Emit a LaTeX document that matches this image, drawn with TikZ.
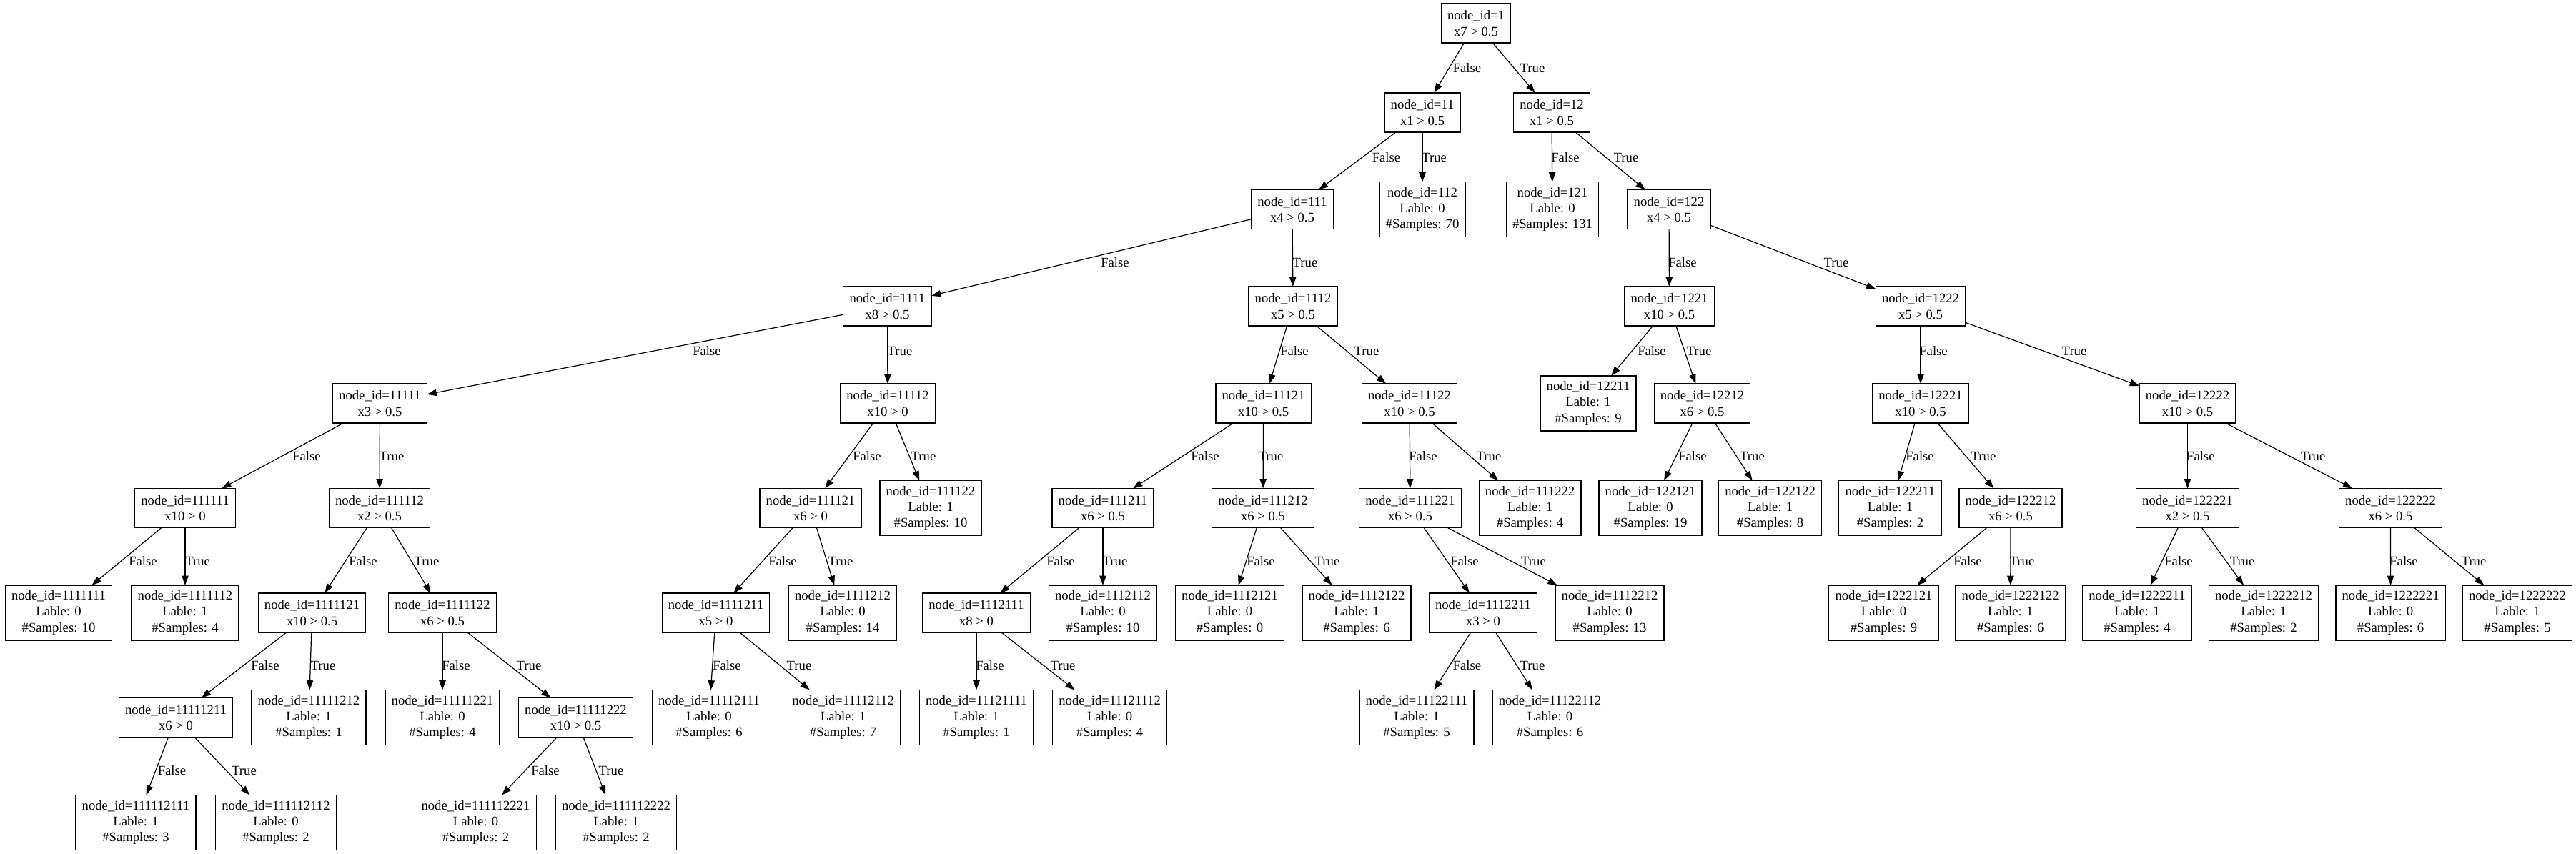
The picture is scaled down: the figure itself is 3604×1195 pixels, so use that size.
\documentclass[tikz,border=0pt]{standalone}
\usepackage{fontspec}
\setmainfont{Liberation Serif}
\usepackage{tikz}
\usetikzlibrary{arrows.meta, positioning}

\begin{document}
\begin{tikzpicture}[
    x=0.75pt, y=-0.75pt,
    split/.style = {rectangle, draw=black, line width=0.9pt, align=center, font=\fontsize{14}{16.8}\selectfont, inner xsep=6.5pt, inner ysep=0pt, minimum height=41.25pt, outer sep=0pt},
    leaf/.style = {split, minimum height=57.75pt},
    arrow/.style = {draw=black, line width=0.9pt, -{Triangle[length=10pt, width=7pt]}},
    lbl/.style = {font=\fontsize{14}{16.8}\selectfont, inner sep=0pt}
]
\useasboundingbox (0,0) rectangle (3604,1195);

% Rank 0 and 1
\node (n1) [split, at={(2065,32.5)}] {node\_id=1\\x7 > 0.5};
\node (n11) [split, at={(1990,157.5)}] {node\_id=11\\x1 > 0.5};
\node (n12) [split, at={(2171,157.5)}] {node\_id=12\\x1 > 0.5};

% Rank 2
\node (n111) [split, at={(1808,293)}] {node\_id=111\\x4 > 0.5};
\node (n112) [leaf, at={(1990,293)}] {node\_id=112\\Lable: 0\\\#Samples: 70};
\node (n121) [leaf, at={(2172,293)}] {node\_id=121\\Lable: 0\\\#Samples: 131};
\node (n122) [split, at={(2335,293)}] {node\_id=122\\x4 > 0.5};

% Rank 3
\node (n1111) [split, at={(1241.5,428.5)}] {node\_id=1111\\x8 > 0.5};
\node (n1112) [split, at={(1809,428.5)}] {node\_id=1112\\x5 > 0.5};
\node (n1221) [split, at={(2335.5,428.5)}] {node\_id=1221\\x10 > 0.5};
\node (n1222) [split, at={(2687,428.5)}] {node\_id=1222\\x5 > 0.5};

% Rank 4
\node (n11111) [split, at={(531.5,564.5)}] {node\_id=11111\\x3 > 0.5};
\node (n11112) [split, at={(1242,564.5)}] {node\_id=11112\\x10 > 0};
\node (n11121) [split, at={(1767.6,564.5)}] {node\_id=11121\\x10 > 0.5};
\node (n11122) [split, at={(1972,564.5)}] {node\_id=11122\\x10 > 0.5};
\node (n12211) [leaf, at={(2222,564.5)}] {node\_id=12211\\Lable: 1\\\#Samples: 9};
\node (n12212) [split, at={(2381.5,564.5)}] {node\_id=12212\\x6 > 0.5};
\node (n12221) [split, at={(2687,564.5)}] {node\_id=12221\\x10 > 0.5};
\node (n12222) [split, at={(3060.5,564.5)}] {node\_id=12222\\x10 > 0.5};

% Rank 5
\node (n111111) [split, at={(259,711)}] {node\_id=111111\\x10 > 0};
\node (n111112) [split, at={(531,711)}] {node\_id=111112\\x2 > 0.5};
\node (n111121) [split, at={(1134,711)}] {node\_id=111121\\x6 > 0};
\node (n111122) [leaf, at={(1302,711)}] {node\_id=111122\\Lable: 1\\\#Samples: 10};
\node (n111211) [split, at={(1543,711)}] {node\_id=111211\\x6 > 0.5};
\node (n111212) [split, at={(1767,711)}] {node\_id=111212\\x6 > 0.5};
\node (n111221) [split, at={(1973,711)}] {node\_id=111221\\x6 > 0.5};
\node (n111222) [leaf, at={(2140.6,711)}] {node\_id=111222\\Lable: 1\\\#Samples: 4};
\node (n122121) [leaf, at={(2309,711)}] {node\_id=122121\\Lable: 0\\\#Samples: 19};
\node (n122122) [leaf, at={(2476.6,711)}] {node\_id=122122\\Lable: 1\\\#Samples: 8};
\node (n122211) [leaf, at={(2644.5,711)}] {node\_id=122211\\Lable: 1\\\#Samples: 2};
\node (n122212) [split, at={(2813,711)}] {node\_id=122212\\x6 > 0.5};
\node (n122221) [split, at={(3060.5,711)}] {node\_id=122221\\x2 > 0.5};
\node (n122222) [split, at={(3344.5,711)}] {node\_id=122222\\x6 > 0.5};

% Rank 6
\node (n1111111) [leaf, at={(82,857.5)}] {node\_id=1111111\\Lable: 0\\\#Samples: 10};
\node (n1111112) [leaf, at={(259,857.5)}] {node\_id=1111112\\Lable: 1\\\#Samples: 4};
\node (n1111121) [split, at={(436.6,857.5)}] {node\_id=1111121\\x10 > 0.5};
\node (n1111122) [split, at={(619,857.5)}] {node\_id=1111122\\x6 > 0.5};
\node (n1111211) [split, at={(1001.5,857.5)}] {node\_id=1111211\\x5 > 0};
\node (n1111212) [leaf, at={(1179,857.5)}] {node\_id=1111212\\Lable: 0\\\#Samples: 14};
\node (n1112111) [split, at={(1366,857.5)}] {node\_id=1112111\\x8 > 0};
\node (n1112112) [leaf, at={(1543,857.5)}] {node\_id=1112112\\Lable: 0\\\#Samples: 10};
\node (n1112121) [leaf, at={(1720.5,857.5)}] {node\_id=1112121\\Lable: 0\\\#Samples: 0};
\node (n1112122) [leaf, at={(1898,857.5)}] {node\_id=1112122\\Lable: 1\\\#Samples: 6};
\node (n1112211) [split, at={(2075,857.5)}] {node\_id=1112211\\x3 > 0};
\node (n1112212) [leaf, at={(2252,857.5)}] {node\_id=1112212\\Lable: 0\\\#Samples: 13};
\node (n1222121) [leaf, at={(2635.5,857.5)}] {node\_id=1222121\\Lable: 0\\\#Samples: 9};
\node (n1222122) [leaf, at={(2812.7,857.5)}] {node\_id=1222122\\Lable: 1\\\#Samples: 6};
\node (n1222211) [leaf, at={(2990,857.5)}] {node\_id=1222211\\Lable: 1\\\#Samples: 4};
\node (n1222212) [leaf, at={(3167,857.5)}] {node\_id=1222212\\Lable: 1\\\#Samples: 2};
\node (n1222221) [leaf, at={(3344.6,857.5)}] {node\_id=1222221\\Lable: 0\\\#Samples: 6};
\node (n1222222) [leaf, at={(3522,857.5)}] {node\_id=1222222\\Lable: 1\\\#Samples: 5};

% Rank 7
\node (n11111211) [split, at={(246,1004)}] {node\_id=11111211\\x6 > 0};
\node (n11111212) [leaf, at={(432,1004)}] {node\_id=11111212\\Lable: 1\\\#Samples: 1};
\node (n11111221) [leaf, at={(619,1004)}] {node\_id=11111221\\Lable: 0\\\#Samples: 4};
\node (n11111222) [split, at={(805.5,1004)}] {node\_id=11111222\\x10 > 0.5};
\node (n11112111) [leaf, at={(992,1004)}] {node\_id=11112111\\Lable: 0\\\#Samples: 6};
\node (n11112112) [leaf, at={(1179.6,1004)}] {node\_id=11112112\\Lable: 1\\\#Samples: 7};
\node (n11121111) [leaf, at={(1366,1004)}] {node\_id=11121111\\Lable: 1\\\#Samples: 1};
\node (n11121112) [leaf, at={(1552.6,1004)}] {node\_id=11121112\\Lable: 0\\\#Samples: 4};
\node (n11122111) [leaf, at={(1982,1004)}] {node\_id=11122111\\Lable: 1\\\#Samples: 5};
\node (n11122112) [leaf, at={(2168.5,1004)}] {node\_id=11122112\\Lable: 0\\\#Samples: 6};

% Rank 8
\node (n111112111) [leaf, at={(190,1151)}] {node\_id=111112111\\Lable: 1\\\#Samples: 3};
\node (n111112112) [leaf, at={(386,1151)}] {node\_id=111112112\\Lable: 0\\\#Samples: 2};
\node (n111112221) [leaf, at={(665.5,1151)}] {node\_id=111112221\\Lable: 0\\\#Samples: 2};
\node (n111112222) [leaf, at={(862,1151)}] {node\_id=111112222\\Lable: 1\\\#Samples: 2};

% Edges, rank 0 to 2
\draw [arrow] (n1) -- (n11) node [lbl, at={(2052.5,95)}] {False};
\draw [arrow] (n1) -- (n12) node [lbl, at={(2144,95)}] {True};
\draw [arrow] (n11) -- (n111) node [lbl, at={(1939.5,220)}] {False};
\draw [arrow] (n11) -- (n112) node [lbl, at={(2006.6,220)}] {True};
\draw [arrow] (n12) -- (n121) node [lbl, at={(2190,220)}] {False};
\draw [arrow] (n12) -- (n122) node [lbl, at={(2275,220)}] {True};

% Edges, rank 2 to 4
\draw [arrow] (n111) -- (n1111) node [lbl, at={(1560,367)}] {False};
\draw [arrow] (n111) -- (n1112) node [lbl, at={(1826,367)}] {True};
\draw [arrow] (n122) -- (n1221) node [lbl, at={(2354,367)}] {False};
\draw [arrow] (n122) -- (n1222) node [lbl, at={(2569,367)}] {True};
\draw [arrow] (n1111) -- (n11111) node [lbl, at={(989,491)}] {False};
\draw [arrow] (n1111) -- (n11112) node [lbl, at={(1259,491)}] {True};
\draw [arrow] (n1112) -- (n11121) node [lbl, at={(1811,491)}] {False};
\draw [arrow] (n1112) -- (n11122) node [lbl, at={(1912,491)}] {True};
\draw [arrow] (n1221) -- (n12211) node [lbl, at={(2311,491)}] {False};
\draw [arrow] (n1221) -- (n12212) node [lbl, at={(2377,491)}] {True};
\draw [arrow] (n1222) -- (n12221) node [lbl, at={(2705,491)}] {False};
\draw [arrow] (n1222) -- (n12222) node [lbl, at={(2902,491)}] {True};

% Edges, rank 4 to 5
\draw [arrow] (n11111) -- (n111111) node [lbl, at={(429,638)}] {False};
\draw [arrow] (n11111) -- (n111112) node [lbl, at={(548,638)}] {True};
\draw [arrow] (n11112) -- (n111121) node [lbl, at={(1213,638)}] {False};
\draw [arrow] (n11112) -- (n111122) node [lbl, at={(1292,638)}] {True};
\draw [arrow] (n11121) -- (n111211) node [lbl, at={(1686,638)}] {False};
\draw [arrow] (n11121) -- (n111212) node [lbl, at={(1778,638)}] {True};
\draw [arrow] (n11122) -- (n111221) node [lbl, at={(1991,638)}] {False};
\draw [arrow] (n11122) -- (n111222) node [lbl, at={(2083,638)}] {True};
\draw [arrow] (n12212) -- (n122121) node [lbl, at={(2368,638)}] {False};
\draw [arrow] (n12212) -- (n122122) node [lbl, at={(2451.5,638)}] {True};
\draw [arrow] (n12221) -- (n122211) node [lbl, at={(2686,638)}] {False};
\draw [arrow] (n12221) -- (n122212) node [lbl, at={(2775,638)}] {True};
\draw [arrow] (n12222) -- (n122221) node [lbl, at={(3078.8,638)}] {False};
\draw [arrow] (n12222) -- (n122222) node [lbl, at={(3236,638)}] {True};

% Edges, rank 5 to 6
\draw [arrow] (n111111) -- (n1111111) node [lbl, at={(200,785)}] {False};
\draw [arrow] (n111111) -- (n1111112) node [lbl, at={(276.7,785)}] {True};
\draw [arrow] (n111112) -- (n1111121) node [lbl, at={(508,785)}] {False};
\draw [arrow] (n111112) -- (n1111122) node [lbl, at={(597,785)}] {True};
\draw [arrow] (n111121) -- (n1111211) node [lbl, at={(1095,785)}] {False};
\draw [arrow] (n111121) -- (n1111212) node [lbl, at={(1176,785)}] {True};
\draw [arrow] (n111211) -- (n1112111) node [lbl, at={(1484,785)}] {False};
\draw [arrow] (n111211) -- (n1112112) node [lbl, at={(1560,785)}] {True};
\draw [arrow] (n111212) -- (n1112121) node [lbl, at={(1764,785)}] {False};
\draw [arrow] (n111212) -- (n1112122) node [lbl, at={(1857,785)}] {True};
\draw [arrow] (n111221) -- (n1112211) node [lbl, at={(2049,785)}] {False};
\draw [arrow] (n111221) -- (n1112212) node [lbl, at={(2145.5,785)}] {True};
\draw [arrow] (n122212) -- (n1222121) node [lbl, at={(2753,785)}] {False};
\draw [arrow] (n122212) -- (n1222122) node [lbl, at={(2829,785)}] {True};
\draw [arrow] (n122221) -- (n1222211) node [lbl, at={(3048,785)}] {False};
\draw [arrow] (n122221) -- (n1222212) node [lbl, at={(3137,785)}] {True};
\draw [arrow] (n122222) -- (n1222221) node [lbl, at={(3363,785)}] {False};
\draw [arrow] (n122222) -- (n1222222) node [lbl, at={(3461,785)}] {True};

% Edges, rank 6 to 8
\draw [arrow] (n1111121) -- (n11111211) node [lbl, at={(371,931)}] {False};
\draw [arrow] (n1111121) -- (n11111212) node [lbl, at={(452,931)}] {True};
\draw [arrow] (n1111122) -- (n11111221) node [lbl, at={(638,931)}] {False};
\draw [arrow] (n1111122) -- (n11111222) node [lbl, at={(740,931)}] {True};
\draw [arrow] (n1111211) -- (n11112111) node [lbl, at={(1017,931)}] {False};
\draw [arrow] (n1111211) -- (n11112112) node [lbl, at={(1118,931)}] {True};
\draw [arrow] (n1112111) -- (n11121111) node [lbl, at={(1385,931)}] {False};
\draw [arrow] (n1112111) -- (n11121112) node [lbl, at={(1487,931)}] {True};
\draw [arrow] (n1112211) -- (n11122111) node [lbl, at={(2052.5,931)}] {False};
\draw [arrow] (n1112211) -- (n11122112) node [lbl, at={(2144,931)}] {True};
\draw [arrow] (n11111211) -- (n111112111) node [lbl, at={(240.5,1078)}] {False};
\draw [arrow] (n11111211) -- (n111112112) node [lbl, at={(341.5,1078)}] {True};
\draw [arrow] (n11111222) -- (n111112221) node [lbl, at={(763,1078)}] {False};
\draw [arrow] (n11111222) -- (n111112222) node [lbl, at={(855,1078)}] {True};

\end{tikzpicture}
\end{document}
